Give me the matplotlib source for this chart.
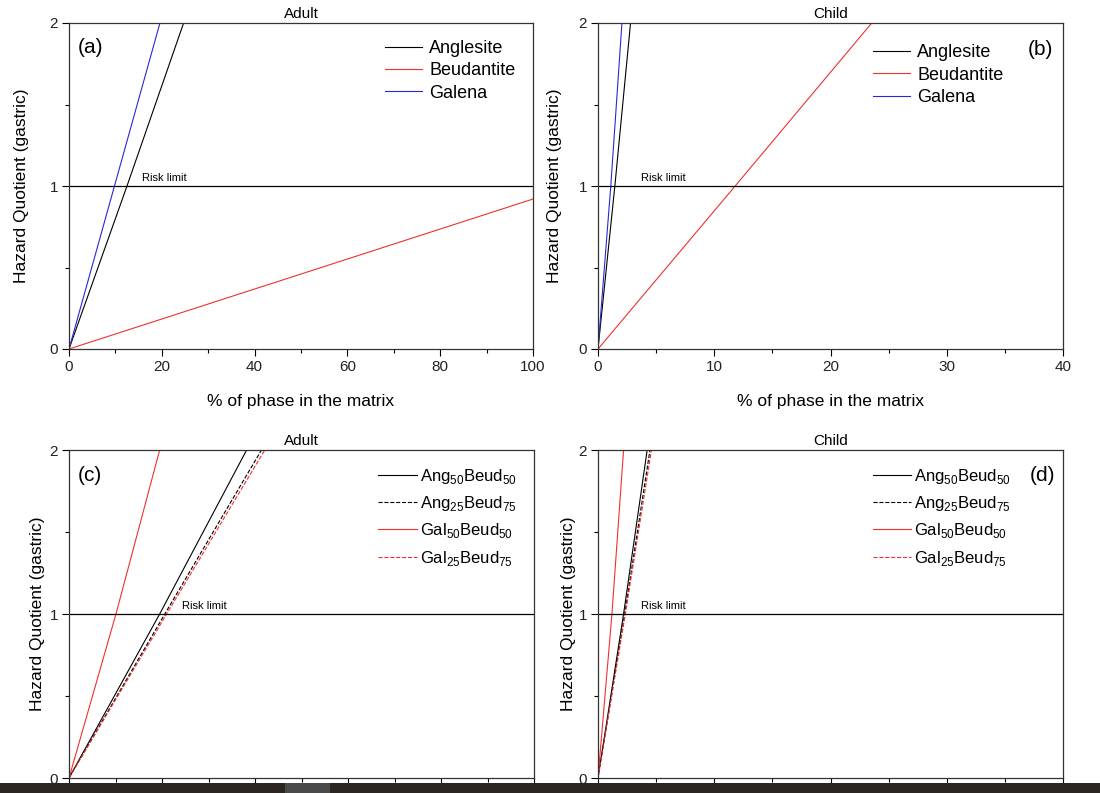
import matplotlib
matplotlib.use('Agg')
import matplotlib.pyplot as plt
from matplotlib.patches import Rectangle
from matplotlib.ticker import MultipleLocator

plt.rcParams['font.family'] = ['Liberation Sans', 'DejaVu Sans']

# panel (a) adult, single phases
adult_ang_x = [0, 12.5, 24.7]
adult_ang_y = [0, 1.0, 2.0]
adult_beud_x = [0, 100]
adult_beud_y = [0, 0.92]
adult_gal_x = [0, 9.8, 19.6]
adult_gal_y = [0, 1.0, 2.0]

# panel (b) child, single phases
child_ang_x = [0, 1.45, 2.8]
child_ang_y = [0, 1.0, 2.0]
child_beud_x = [0, 11.8, 23.55]
child_beud_y = [0, 1.0, 2.0]
child_gal_x = [0, 1.1, 2.06]
child_gal_y = [0, 1.0, 2.0]

# panel (c) adult, mixtures
adult_a50_x = [0, 19.5, 38.2]
adult_a50_y = [0, 1.0, 2.0]
adult_a25_x = [0, 20.6, 41.4]
adult_a25_y = [0, 1.0, 2.0]
adult_g50_x = [0, 10.1, 19.5]
adult_g50_y = [0, 1.0, 2.0]
adult_g25_x = [0, 21.0, 42.1]
adult_g25_y = [0, 1.0, 2.0]

# panel (d) child, mixtures
child_a50_x = [0, 2.2, 4.23]
child_a50_y = [0, 1.0, 2.0]
child_a25_x = [0, 2.3, 4.47]
child_a25_y = [0, 1.0, 2.0]
child_g50_x = [0, 1.2, 2.2]
child_g50_y = [0, 1.0, 2.0]
child_g25_x = [0, 2.35, 4.6]
child_g25_y = [0, 1.0, 2.0]

RED = '#f03030'
BLUE = '#2828d8'
W, H = 1100, 793

fig = plt.figure(figsize=(11, 7.93), dpi=100)


def make_ax(left, top, right, bottom):
    return fig.add_axes([left / W, 1 - bottom / H, (right - left) / W, (bottom - top) / H])


def style(ax, xmax, major, title, label, label_pos, ylabelpad, xlabel=True):
    ax.set_xlim(0, xmax)
    ax.set_ylim(0, 2)
    ax.xaxis.set_major_locator(MultipleLocator(major))
    ax.xaxis.set_minor_locator(MultipleLocator(major / 2))
    ax.yaxis.set_major_locator(MultipleLocator(1))
    ax.yaxis.set_minor_locator(MultipleLocator(0.5))
    ax.tick_params(which='major', direction='out', length=5, width=0.8, labelsize=11,
                   pad=3, labelcolor='#222222')
    ax.tick_params(which='minor', direction='out', length=3, width=0.8)
    for s in ax.spines.values():
        s.set_linewidth(0.9)
        s.set_color('#333333')
    ax.axhline(1, color='black', lw=0.9)
    ax.text(label_pos[0], 1.02, 'Risk limit', fontsize=8, transform=ax.transData, va='bottom')
    ax.set_title(title, fontsize=11, pad=3.5)
    ax.set_ylabel('Hazard Quotient (gastric)', fontsize=12.5, labelpad=ylabelpad)
    if xlabel:
        ax.set_xlabel('% of phase in the matrix', fontsize=12.5, labelpad=14)
    else:
        ax.tick_params(axis='x', labelbottom=False)
    ax.text(label_pos[1], label_pos[2], label, fontsize=15, transform=ax.transAxes, va='center')


leg_single = dict(loc='upper left', frameon=False, fontsize=13, handlelength=2.05,
                  handletextpad=0.4, labelspacing=0.3, borderpad=0)
leg_mix = dict(loc='upper left', frameon=False, fontsize=12, handlelength=2.3,
               handletextpad=0.2, labelspacing=0.5, borderpad=0)

ax_a = make_ax(69, 23, 533, 349)
ax_a.plot(adult_ang_x, adult_ang_y, color='black', lw=0.8, label='Anglesite')
ax_a.plot(adult_beud_x, adult_beud_y, color=RED, lw=0.8, label='Beudantite')
ax_a.plot(adult_gal_x, adult_gal_y, color=BLUE, lw=0.8, label='Galena')
style(ax_a, 100, 20, 'Adult', '(a)', (15.7, 0.018, 0.926), 15)
ax_a.legend(bbox_to_anchor=(0.6615, 0.976), **leg_single)

ax_b = make_ax(598, 23, 1063, 349)
ax_b.plot(child_ang_x, child_ang_y, color='black', lw=0.8, label='Anglesite')
ax_b.plot(child_beud_x, child_beud_y, color=RED, lw=0.8, label='Beudantite')
ax_b.plot(child_gal_x, child_gal_y, color=BLUE, lw=0.8, label='Galena')
style(ax_b, 40, 10, 'Child', '(b)', (3.66, 0.925, 0.92), 12)
ax_b.legend(bbox_to_anchor=(0.5715, 0.963), **leg_single)

ax_c = make_ax(69, 450, 534, 778)
ax_c.plot(adult_a50_x, adult_a50_y, color='black', lw=0.8, label=r'Ang$_\mathregular{50}$Beud$_\mathregular{50}$')
ax_c.plot(adult_a25_x, adult_a25_y, color='black', lw=0.8, ls='--', label=r'Ang$_\mathregular{25}$Beud$_\mathregular{75}$')
ax_c.plot(adult_g50_x, adult_g50_y, color=RED, lw=0.8, label=r'Gal$_\mathregular{50}$Beud$_\mathregular{50}$')
ax_c.plot(adult_g25_x, adult_g25_y, color=RED, lw=0.8, ls='--', label=r'Gal$_\mathregular{25}$Beud$_\mathregular{75}$')
style(ax_c, 100, 20, 'Adult', '(c)', (24.4, 0.018, 0.923), 3.5, xlabel=False)
ax_c.legend(bbox_to_anchor=(0.647, 0.975), **leg_mix)

ax_d = make_ax(598, 450, 1063, 778)
ax_d.plot(child_a50_x, child_a50_y, color='black', lw=0.8, label=r'Ang$_\mathregular{50}$Beud$_\mathregular{50}$')
ax_d.plot(child_a25_x, child_a25_y, color='black', lw=0.8, ls='--', label=r'Ang$_\mathregular{25}$Beud$_\mathregular{75}$')
ax_d.plot(child_g50_x, child_g50_y, color=RED, lw=0.8, label=r'Gal$_\mathregular{50}$Beud$_\mathregular{50}$')
ax_d.plot(child_g25_x, child_g25_y, color=RED, lw=0.8, ls='--', label=r'Gal$_\mathregular{25}$Beud$_\mathregular{75}$')
style(ax_d, 40, 10, 'Child', '(d)', (3.66, 0.928, 0.923), 2, xlabel=False)
ax_d.legend(bbox_to_anchor=(0.573, 0.975), **leg_mix)

# dark strip cut across the bottom of the original image
fig.patches.append(Rectangle((0, 0), 1, 10 / H, transform=fig.transFigure,
                             facecolor='#2b2622', edgecolor='none', zorder=20))
fig.patches.append(Rectangle((285 / W, 0), 45 / W, 10 / H, transform=fig.transFigure,
                             facecolor='#4a4a4a', edgecolor='none', zorder=21))

fig.savefig('out.png', dpi=100)
